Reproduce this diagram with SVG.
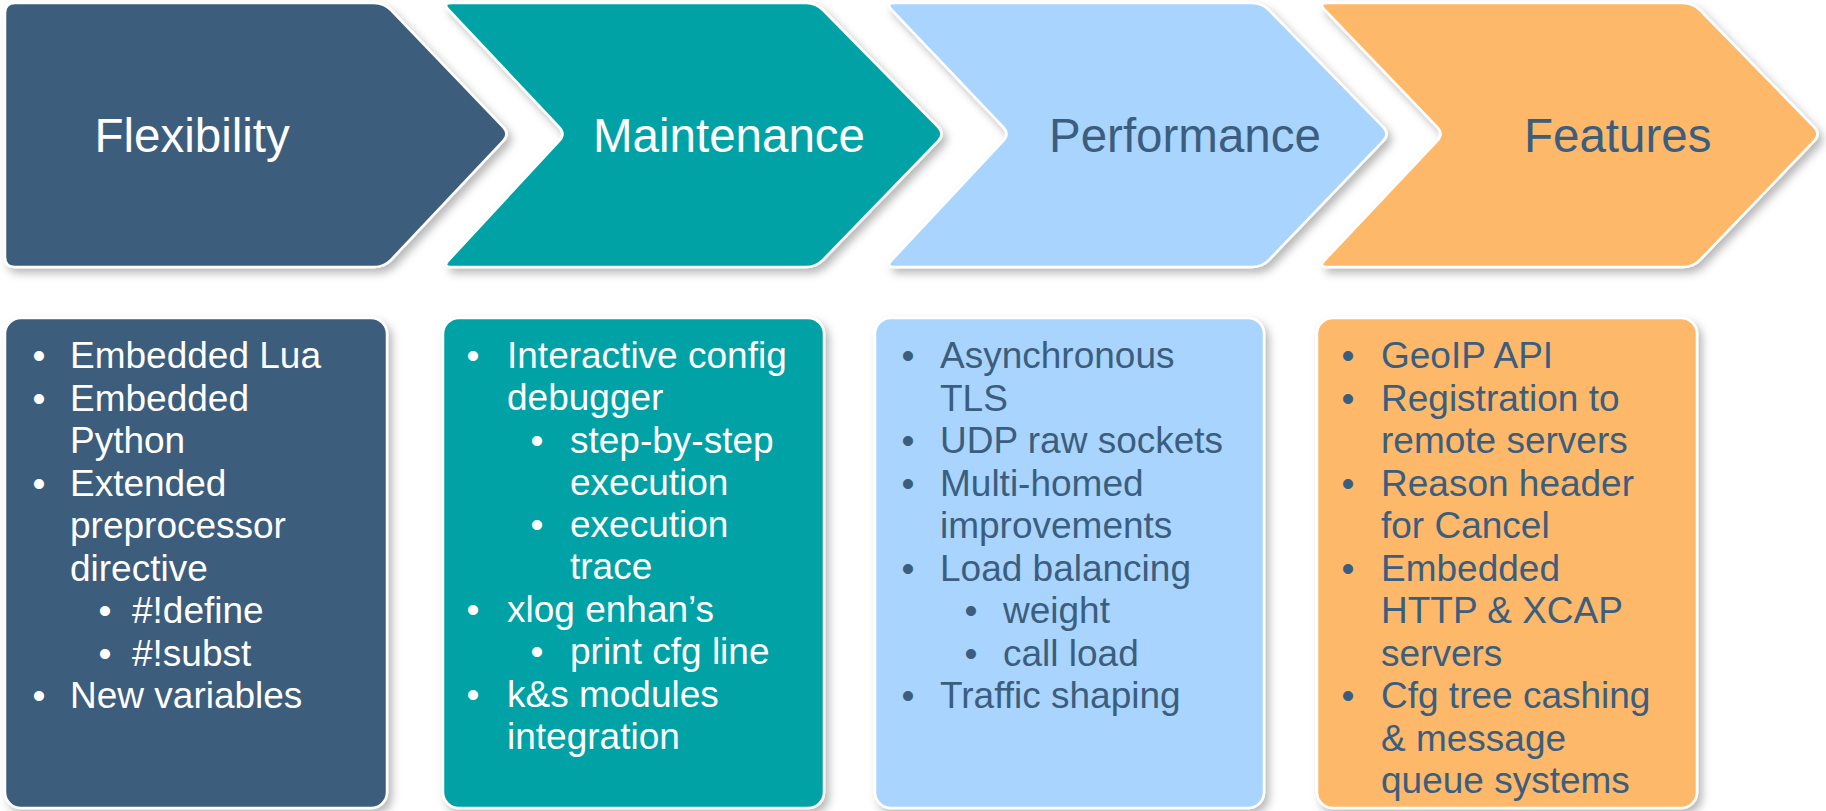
<svg xmlns="http://www.w3.org/2000/svg" width="1826" height="811" viewBox="0 0 1826 811">
<defs>
<filter id="sh" x="-10%" y="-10%" width="125%" height="125%">
<feDropShadow dx="4" dy="5" stdDeviation="4" flood-color="#000" flood-opacity="0.28"/>
</filter>
</defs>
<style>
.shape{stroke:#fff;stroke-width:2.5;filter:url(#sh)}
.dark{fill:#3C5D7C}
.teal{fill:#00A2A6}
.light{fill:#A9D4FD}
.orange{fill:#FDB86A}
.hdr{font-family:"Liberation Sans",Arial,sans-serif;font-size:47.5px}
.body{font-family:"Liberation Sans",Arial,sans-serif;font-size:37px}
.w{fill:#fff}
.b{fill:#3B5E7E}
</style>
<rect width="1826" height="811" fill="#fff"/>
<g id="connectors"></g>
<g id="flexibility">
<path class="shape dark" d="M15,3 L374,3 Q384,3 391,10.2 L503,126.8 Q510,134 503,141.2 L391,259.8 Q384,267 374,267 L15,267 Q5,267 5,257 L5,13 Q5,3 15,3 Z"/>
<text class="hdr w" x="94.5" y="152">Flexibility</text>
</g>
<g id="maintenance">
<path class="shape teal" d="M452,3 L806,3 Q816,3 823,10.2 L938,126.8 Q945,134 938,141.2 L823,259.8 Q816,267 806,267 L452,267 Q442,267 449,259.8 L559,141.2 Q566,134 559,126.8 L449,10.2 Q442,3 452,3 Z"/>
<text class="hdr w" x="593" y="152">Maintenance</text>
</g>
<g id="performance">
<path class="shape light" d="M895,3 L1252,3 Q1262,3 1269,10.2 L1383,126.8 Q1390,134 1383,141.2 L1269,259.8 Q1262,267 1252,267 L895,267 Q885,267 892,259.8 L1003,141.2 Q1010,134 1003,126.8 L892,10.2 Q885,3 895,3 Z"/>
<text class="hdr b" x="1049" y="152">Performance</text>
</g>
<g id="features">
<path class="shape orange" d="M1328,3 L1683,3 Q1693,3 1700,10.2 L1814,126.8 Q1821,134 1814,141.2 L1700,259.8 Q1693,267 1683,267 L1328,267 Q1318,267 1325,259.8 L1437,141.2 Q1444,134 1437,126.8 L1325,10.2 Q1318,3 1328,3 Z"/>
<text class="hdr b" x="1524" y="152">Features</text>
</g>
<g id="flexibility-list">
<rect class="shape dark" x="5" y="318" width="382" height="490" rx="16"/>
<g class="body w">
<text x="32.5" y="368">•</text><text x="70" y="368">Embedded Lua</text>
<text x="32.5" y="410.5">•</text><text x="70" y="410.5">Embedded</text>
<text x="70" y="453">Python</text>
<text x="32.5" y="495.5">•</text><text x="70" y="495.5">Extended</text>
<text x="70" y="538">preprocessor</text>
<text x="70" y="580.5">directive</text>
<text x="98.5" y="623">•</text><text x="132" y="623">#!define</text>
<text x="98.5" y="665.5">•</text><text x="132" y="665.5">#!subst</text>
<text x="32.5" y="708">•</text><text x="70" y="708">New variables</text>
</g>
</g>
<g id="maintenance-list">
<rect class="shape teal" x="443" y="318" width="381" height="490" rx="16"/>
<g class="body w">
<text x="466.5" y="368">•</text><text x="507" y="368">Interactive config</text>
<text x="507" y="410">debugger</text>
<text x="530.5" y="453">•</text><text x="570" y="453">step-by-step</text>
<text x="570" y="495">execution</text>
<text x="530.5" y="537">•</text><text x="570" y="537">execution</text>
<text x="570" y="579">trace</text>
<text x="466.5" y="622">•</text><text x="507" y="622">xlog enhan’s</text>
<text x="530.5" y="664">•</text><text x="570" y="664">print cfg line</text>
<text x="466.5" y="707">•</text><text x="507" y="707">k&amp;s modules</text>
<text x="507" y="749">integration</text>
</g>
</g>
<g id="performance-list">
<rect class="shape light" x="875" y="318" width="389" height="490" rx="16"/>
<g class="body b">
<text x="901.5" y="368">•</text><text x="940" y="368">Asynchronous</text>
<text x="940" y="410.5">TLS</text>
<text x="901.5" y="453">•</text><text x="940" y="453">UDP raw sockets</text>
<text x="901.5" y="495.5">•</text><text x="940" y="495.5">Multi-homed</text>
<text x="940" y="538">improvements</text>
<text x="901.5" y="580.5">•</text><text x="940" y="580.5">Load balancing</text>
<text x="964.5" y="623">•</text><text x="1003" y="623">weight</text>
<text x="964.5" y="665.5">•</text><text x="1003" y="665.5">call load</text>
<text x="901.5" y="708">•</text><text x="940" y="708">Traffic shaping</text>
</g>
</g>
<g id="features-list">
<rect class="shape orange" x="1317" y="318" width="380" height="490" rx="16"/>
<g class="body b">
<text x="1341.5" y="368">•</text><text x="1381" y="368">GeoIP API</text>
<text x="1341.5" y="410.5">•</text><text x="1381" y="410.5">Registration to</text>
<text x="1381" y="453">remote servers</text>
<text x="1341.5" y="495.5">•</text><text x="1381" y="495.5">Reason header</text>
<text x="1381" y="538">for Cancel</text>
<text x="1341.5" y="580.5">•</text><text x="1381" y="580.5">Embedded</text>
<text x="1381" y="623">HTTP &amp; XCAP</text>
<text x="1381" y="665.5">servers</text>
<text x="1341.5" y="708">•</text><text x="1381" y="708">Cfg tree cashing</text>
<text x="1381" y="750.5">&amp; message</text>
<text x="1381" y="793">queue systems</text>
</g>
</g>
</svg>
